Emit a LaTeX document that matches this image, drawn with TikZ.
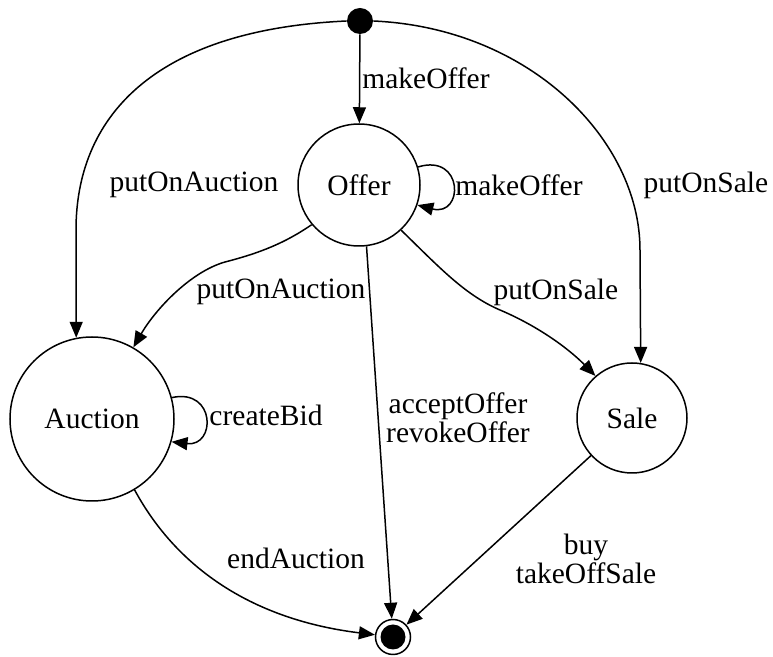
\documentclass[tikz,border=0pt]{standalone}
\usepackage{fontspec}
\setmainfont{Liberation Serif}
\usetikzlibrary{arrows.meta}
\tikzset{
  state-style/.style = {
    circle, draw, line width=0.75pt,
    minimum size=#1,
    inner sep=0pt
  },
  start-style/.style = {
    circle, fill=black,
    minimum size=13pt,
    inner sep=0pt
  },
  end-style/.style = {
    circle, draw, line width=0.75pt,
    minimum size=17.5pt,
    inner sep=0pt,
    path picture={\fill[black] (path picture bounding box.center) circle (6.25pt);}
  },
  label-style/.style = {
    inner sep=0pt, align=center
  },
  trans-style/.style = {
    ->, line width=0.75pt
  },
  every edge/.style = {draw, trans-style},
  >={Triangle[length=8pt,width=6.5pt]}
}

\begin{document}
\begin{tikzpicture}[x=0.5pt,y=-0.5pt,font=\fontsize{14.75}{13}\selectfont]
    \useasboundingbox (0,0) rectangle (773,657);

    %%% states
    \node[start-style] (startState) at (360,21) {};
    \node[state-style=61pt] (offerState) at (359,185) {Offer};
    \node[state-style=82pt] (auctionState) at (92,419) {Auction};
    \node[state-style=55pt] (saleState) at (632,418) {Sale};
    \node[end-style] (endState) at (393,637) {};

    %%% transitions
    \path (startState) edge (offerState);
    \draw[trans-style] (startState.west) .. controls (150,30) and (76,120) .. (76,230) -- (auctionState.101);
    \draw[trans-style] (startState.east) .. controls (530,28) and (640,140) .. (640,250) -- (saleState.81);
    \draw[trans-style] (offerState.17) .. controls (464,153) and (464,217) .. (offerState.-19);
    \draw[trans-style] (offerState.220) .. controls (285,243) and (260,253) .. (225,262)
      .. controls (190,272) and (155,310) .. (auctionState.60);
    \draw[trans-style] (offerState.313) .. controls (440,268) and (465,295) .. (500,310)
      .. controls (540,327) and (570,350) .. (saleState.131);
    \path (offerState.277) edge (endState);
    \draw[trans-style] (auctionState.15) .. controls (216,388) and (216,447) .. (auctionState.-16);
    \draw[trans-style] (auctionState.301) .. controls (178,570) and (255,620) .. (endState);
    \path (saleState) edge (endState);

    %%% labels
    \node[label-style] (lblStartOffer) at (426,78) {makeOffer};
    \node[label-style] (lblStartAuction) at (194,185) {putOnAuction};
    \node[label-style] (lblStartSale) at (706,185) {putOnSale};
    \node[label-style] (lblOfferLoop) at (519,185) {makeOffer};
    \node[label-style] (lblOfferAuction) at (281,292) {putOnAuction};
    \node[label-style] (lblOfferSale) at (556,292) {putOnSale};
    \node[label-style] (lblAuctionLoop) at (266,415) {createBid};
    \node[label-style] (lblOfferEnd) at (458,418) {acceptOffer\\revokeOffer};
    \node[label-style] (lblAuctionEnd) at (296,558) {endAuction};
    \node[label-style] (lblSaleEnd) at (586,559) {buy\\takeOffSale};
\end{tikzpicture}
\end{document}
